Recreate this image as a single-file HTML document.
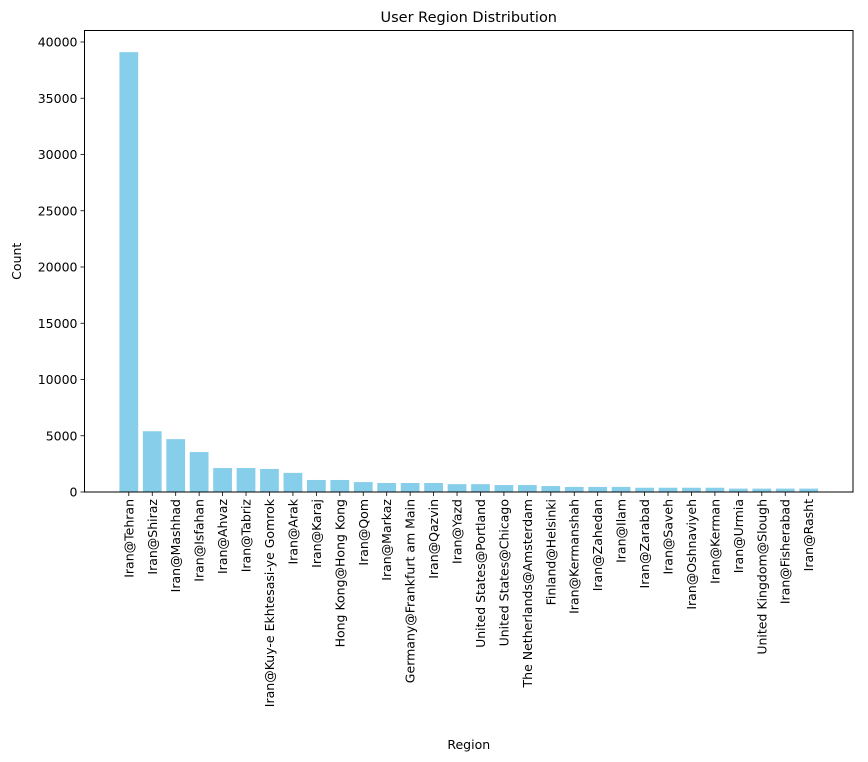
<!DOCTYPE html>
<html><head><meta charset="utf-8"><style>
body{margin:0;background:#fff;}
svg{display:block;font-family:"DejaVu Sans","Liberation Sans",sans-serif;}
</style></head><body>
<svg id="chart" width="868" height="762"></svg>
<script>
const categories=["Iran@Tehran","Iran@Shiraz","Iran@Mashhad","Iran@Isfahan","Iran@Ahvaz","Iran@Tabriz","Iran@Kuy-e Ekhtesasi-ye Gomrok","Iran@Arak","Iran@Karaj","Hong Kong@Hong Kong","Iran@Qom","Iran@Markaz","Germany@Frankfurt am Main","Iran@Qazvin","Iran@Yazd","United States@Portland","United States@Chicago","The Netherlands@Amsterdam","Finland@Helsinki","Iran@Kermanshah","Iran@Zahedan","Iran@Ilam","Iran@Zarabad","Iran@Saveh","Iran@Oshnaviyeh","Iran@Kerman","Iran@Urmia","United Kingdom@Slough","Iran@Fisherabad","Iran@Rasht"];
const counts=[39100,5400,4700,3550,2130,2130,2050,1700,1070,1070,880,800,800,800,700,700,620,620,530,450,450,450,380,380,380,380,300,300,300,300];
const yTicks=[0,5000,10000,15000,20000,25000,30000,35000,40000];
const NS="http://www.w3.org/2000/svg";
const svg=document.getElementById('chart');
const L=84.5,R=853,T=30.5,B=492;
const n=categories.length;
const xmin=-0.4-0.05*(n-1+0.8),xmax=n-1+0.4+0.05*(n-1+0.8);
const x=v=>L+(v-xmin)/(xmax-xmin)*(R-L);
const y=v=>B-v*(450/40000);
function mk(tag,attrs,parent){const e=document.createElementNS(NS,tag);for(const k in attrs)e.setAttribute(k,attrs[k]);(parent||svg).appendChild(e);return e;}
const bw=(x(0.8)-x(0));
counts.forEach((c,i)=>{
  const r=mk('rect',{x:x(i)-bw/2,y:y(c),width:bw,height:B-y(c),fill:'#87ceeb'});
  
  
  const tk=mk('line',{x1:x(i),x2:x(i),y1:B,y2:B+4,stroke:'#000','stroke-width':0.8});
  
  
  const t=mk('text',{x:0,y:0,'font-size':12.5,'text-anchor':'end',fill:'#000',transform:`translate(${x(i)+4.5},${B+7}) rotate(-90)`});
  t.textContent=categories[i];
  
  
});
yTicks.forEach(v=>{
  const tk=mk('line',{x1:L-4,x2:L,y1:y(v),y2:y(v),stroke:'#000','stroke-width':0.8});
  
  
  const t=mk('text',{x:L-7,y:y(v)+4.5,'font-size':12.5,'text-anchor':'end',fill:'#000'});
  t.textContent=v;
  
  
});
const fr=mk('rect',{x:L,y:T,width:R-L,height:B-T,fill:'none',stroke:'#000','stroke-width':1});


const title=mk('text',{x:(L+R)/2,y:22,'font-size':14.5,'text-anchor':'middle'});
title.textContent='User Region Distribution';


const xl=mk('text',{x:(L+R)/2,y:749,'font-size':12.5,'text-anchor':'middle'});
xl.textContent='Region';


const yl=mk('text',{x:0,y:0,'font-size':12.5,'text-anchor':'middle',transform:`translate(21,${(T+B)/2}) rotate(-90)`});
yl.textContent='Count';


</script>
</body></html>
